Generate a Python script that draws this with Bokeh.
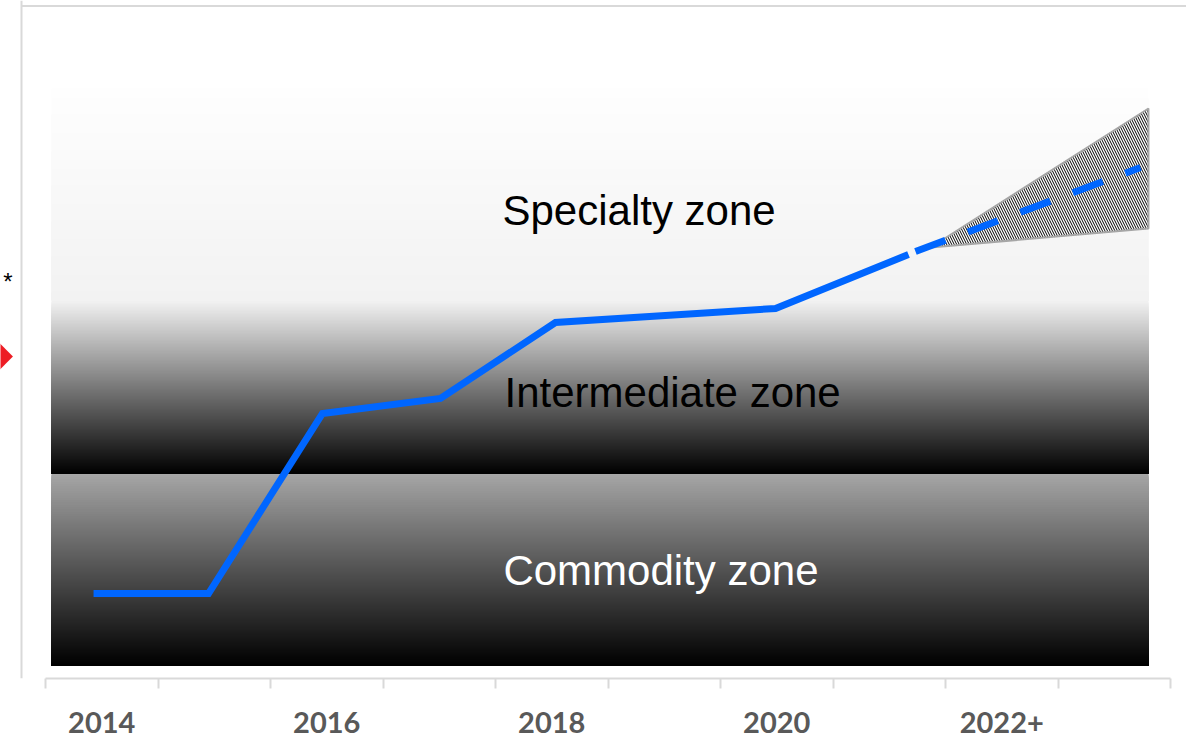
import math
from bokeh.plotting import figure
from bokeh.models import Range1d, LinearAxis, FixedTicker
from bokeh.core.properties import value
from bokeh.embed import file_html
from bokeh.resources import INLINE

# ---------------- data ----------------
tick_labels = ["2014", "2016", "2018", "2020", "2022+"]
tick_pos = [0.5, 2.5, 4.5, 6.5, 8.5]
n_categories = 10

zone_names = ["Commodity zone", "Intermediate zone", "Specialty zone"]
zone_bottom = [13, 205, 378]
zone_top = [205, 378, 590]
zone_gray_top = [166, 242, 254]
zone_gray_bottom = [0, 0, 242]
zone_text_color = ["white", "black", "black"]
zone_label_x = [4.07, 4.08, 4.062]
zone_label_y = [108, 286, 468]

line_x = [0.427, 1.449, 2.462, 3.511, 4.533, 6.489, 7.671]
line_y = [85, 85, 265, 280, 356, 370, 424]

proj_x = [7.733, 9.733]
proj_y = [427, 511]

cone_x = [7.867, 9.804, 9.804]
cone_y = [431, 570, 450]

zone_x0, zone_x1 = 0.0533, 9.804

# ---------------- figure ----------------
X0, X1 = -0.4, 10.14222
p = figure(frame_width=1186, frame_height=678, output_backend="svg",
           toolbar_location=None, x_axis_location=None, y_axis_location=None,
           x_range=Range1d(X0, X1), y_range=Range1d(0, 678),
           min_border=0, min_border_left=0, min_border_right=0, min_border_top=0,
           min_border_bottom=70)
p.outline_line_color = None
p.background_fill_color = "white"
p.border_fill_color = "white"
p.grid.grid_line_color = None

# gradient zones: overlapping strips, each reaching down to the zone bottom
for b, t, gt, gb in zip(zone_bottom, zone_top, zone_gray_top, zone_gray_bottom):
    n = int(t - b)
    tops, cols = [], []
    for i in reversed(range(n)):
        frac = (i + 0.5) / n
        g = int(round(gb + (gt - gb) * frac))
        tops.append(b + i + 1)
        cols.append("#%02x%02x%02x" % (g, g, g))
    p.quad(left=zone_x0, right=zone_x1, bottom=b, top=tops,
           fill_color=cols, line_color=None)

# outer frame border
p.line(x=[-0.2133, -0.2133], y=[0, 678], line_color="#d9d9d9", line_width=2)
p.line(x=[-0.2133, X1], y=[672.5, 672.5], line_color="#d9d9d9", line_width=2)

# hatched projection cone
p.patch(x=cone_x, y=cone_y, fill_color="white", hatch_pattern="\\",
        hatch_color="black", hatch_scale=5, hatch_weight=1,
        line_color="#a6a6a6", line_width=2)

# main line
p.line(x=line_x, y=line_y, line_width=7, line_color="#0066FF",
       line_join="miter", line_cap="butt")
p.line(x=proj_x, y=proj_y, line_width=7, line_color="#0066FF",
       line_dash="32 24", line_cap="butt")

# zone labels
for name, c, lx, ly in zip(zone_names, zone_text_color, zone_label_x, zone_label_y):
    p.text(x=[lx], y=[ly], text=[name], text_color=c,
           text_font=value("Liberation Sans"), text_font_size="42px",
           text_align="left", text_baseline="middle")

# marks at the left edge
p.text(x=[-0.2933], y=[397], text=["*"], text_color="black",
       text_font=value("Liberation Sans"), text_font_size="24px",
       text_align="right", text_baseline="alphabetic")
p.scatter(x=[-0.409], y=[322], marker="square", angle=math.pi / 4, size=19,
          fill_color="#ED1C24", line_color=None)

# x axis
ticker = FixedTicker(ticks=tick_pos, minor_ticks=list(range(n_categories + 1)))
axis = LinearAxis(ticker=ticker, bounds=(0, n_categories))
axis.major_label_overrides = {pos: lab for pos, lab in zip(tick_pos, tick_labels)}
axis.axis_line_color = "#d9d9d9"
axis.axis_line_width = 2
axis.major_tick_line_color = None
axis.major_tick_out = 0
axis.major_tick_in = 0
axis.minor_tick_line_color = "#d9d9d9"
axis.minor_tick_line_width = 2
axis.minor_tick_out = 10
axis.minor_tick_in = 0
axis.major_label_text_font = "Lato"
axis.major_label_text_font_style = "bold"
axis.major_label_text_font_size = "29px"
axis.major_label_text_color = "#595959"
axis.major_label_standoff = 23
p.add_layout(axis, "below")

open("out.html", "w").write(file_html(p, INLINE))
